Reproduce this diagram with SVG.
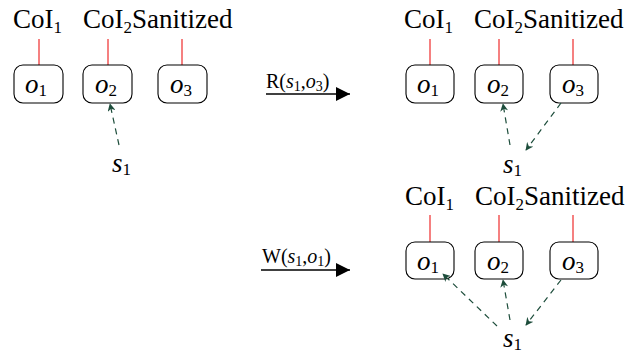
<svg xmlns="http://www.w3.org/2000/svg" width="634" height="354" viewBox="0 0 634 354">
<style>
.lbl{font-family:"Liberation Serif","Times New Roman",serif;font-size:27px;fill:#000}
.sub{font-size:17px}
.it{font-style:italic}
.op{font-family:"Liberation Serif","Times New Roman",serif;font-size:20px;fill:#000}
.ops{font-size:14px}
.box{fill:#fff;stroke:#000;stroke-width:1.1}
.red{stroke:#f03c3c;stroke-width:1.3}
.acc{stroke:#1d4d3b;stroke-width:1.2;stroke-dasharray:6,5;fill:none;marker-end:url(#ga)}
.main{stroke:#000;stroke-width:1.6;marker-end:url(#ba)}
</style>
<defs>
<marker id="ga" viewBox="0 0 10 10" refX="9" refY="5" markerWidth="8" markerHeight="8" markerUnits="userSpaceOnUse" orient="auto">
<path d="M0,0 L10,5 L0,10 L3,5 Z" fill="#1d4d3b"/>
</marker>
<marker id="ba" viewBox="0 0 14 14" refX="14" refY="7" markerWidth="14" markerHeight="14" markerUnits="userSpaceOnUse" orient="auto">
<path d="M0,0 L14,7 L0,14 Z" fill="#000"/>
</marker>
</defs>

<!-- Panel 1 -->
<g id="p1-labels">
<text class="lbl" x="13" y="28">CoI<tspan class="sub" dy="5">1</tspan></text>
<text class="lbl" x="83" y="28">CoI<tspan class="sub" dy="5">2</tspan><tspan dy="-5">Sanitized</tspan></text>
</g>
<g id="p1-o1"><line class="red" x1="39" y1="39" x2="39" y2="65"/><rect class="box" x="14" y="65" width="49" height="38" rx="9"/><text class="lbl" x="25" y="93"><tspan class="it">o</tspan><tspan class="sub" dy="3">1</tspan></text></g>
<g id="p1-o2"><line class="red" x1="108" y1="39" x2="108" y2="65"/><rect class="box" x="83" y="65" width="49" height="38" rx="9"/><text class="lbl" x="95" y="93"><tspan class="it">o</tspan><tspan class="sub" dy="3">2</tspan></text></g>
<g id="p1-o3"><line class="red" x1="182" y1="39" x2="182" y2="65"/><rect class="box" x="158" y="65" width="49" height="38" rx="9"/><text class="lbl" x="170" y="93"><tspan class="it">o</tspan><tspan class="sub" dy="3">3</tspan></text></g>
<g id="p1-s1"><text class="lbl" x="112" y="172"><tspan class="it">s</tspan><tspan class="sub" dy="3">1</tspan></text></g>

<!-- Panel 2 -->
<g id="p2-labels">
<text class="lbl" x="404" y="28">CoI<tspan class="sub" dy="5">1</tspan></text>
<text class="lbl" x="474" y="28">CoI<tspan class="sub" dy="5">2</tspan><tspan dy="-5">Sanitized</tspan></text>
</g>
<g id="p2-o1"><line class="red" x1="430" y1="39" x2="430" y2="65"/><rect class="box" x="406" y="65" width="48" height="38" rx="9"/><text class="lbl" x="417" y="93"><tspan class="it">o</tspan><tspan class="sub" dy="3">1</tspan></text></g>
<g id="p2-o2"><line class="red" x1="499" y1="39" x2="499" y2="65"/><rect class="box" x="475" y="65" width="48" height="38" rx="9"/><text class="lbl" x="487" y="93"><tspan class="it">o</tspan><tspan class="sub" dy="3">2</tspan></text></g>
<g id="p2-o3"><line class="red" x1="573" y1="39" x2="573" y2="65"/><rect class="box" x="550" y="65" width="48" height="38" rx="9"/><text class="lbl" x="562" y="93"><tspan class="it">o</tspan><tspan class="sub" dy="3">3</tspan></text></g>
<g id="p2-s1"><text class="lbl" x="503" y="173"><tspan class="it">s</tspan><tspan class="sub" dy="3">1</tspan></text></g>

<!-- Panel 3 -->
<g id="p3-labels">
<text class="lbl" x="405" y="205">CoI<tspan class="sub" dy="5">1</tspan></text>
<text class="lbl" x="475" y="205">CoI<tspan class="sub" dy="5">2</tspan><tspan dy="-5">Sanitized</tspan></text>
</g>
<g id="p3-o1"><line class="red" x1="430" y1="215" x2="430" y2="242"/><rect class="box" x="406" y="242" width="48" height="37" rx="9"/><text class="lbl" x="417" y="270"><tspan class="it">o</tspan><tspan class="sub" dy="3">1</tspan></text></g>
<g id="p3-o2"><line class="red" x1="499" y1="215" x2="499" y2="242"/><rect class="box" x="475" y="242" width="48" height="37" rx="9"/><text class="lbl" x="487" y="270"><tspan class="it">o</tspan><tspan class="sub" dy="3">2</tspan></text></g>
<g id="p3-o3"><line class="red" x1="573" y1="215" x2="573" y2="242"/><rect class="box" x="550" y="242" width="48" height="37" rx="9"/><text class="lbl" x="562" y="270"><tspan class="it">o</tspan><tspan class="sub" dy="3">3</tspan></text></g>
<g id="p3-s1"><text class="lbl" x="503" y="347"><tspan class="it">s</tspan><tspan class="sub" dy="3">1</tspan></text></g>

<!-- Connectors -->
<g id="connectors">
<line class="acc" x1="119" y1="145" x2="110" y2="104"/>
<line class="acc" x1="510" y1="145" x2="503" y2="104"/>
<line class="acc" x1="561" y1="103" x2="526" y2="150"/>
<line class="acc" x1="497" y1="326" x2="443" y2="274"/>
<line class="acc" x1="510" y1="320" x2="503" y2="280"/>
<line class="acc" x1="561" y1="280" x2="526" y2="325"/>
<line class="main" x1="266" y1="94" x2="350" y2="94"/>
<text class="op" x="266" y="88">R(<tspan class="it">s</tspan><tspan class="ops" dy="3">1</tspan><tspan dy="-3">,</tspan><tspan class="it">o</tspan><tspan class="ops" dy="3">3</tspan><tspan dy="-3">)</tspan></text>
<line class="main" x1="261" y1="270" x2="350" y2="270"/>
<text class="op" x="262" y="263">W(<tspan class="it">s</tspan><tspan class="ops" dy="3">1</tspan><tspan dy="-3">,</tspan><tspan class="it">o</tspan><tspan class="ops" dy="3">1</tspan><tspan dy="-3">)</tspan></text>
</g>
</svg>
